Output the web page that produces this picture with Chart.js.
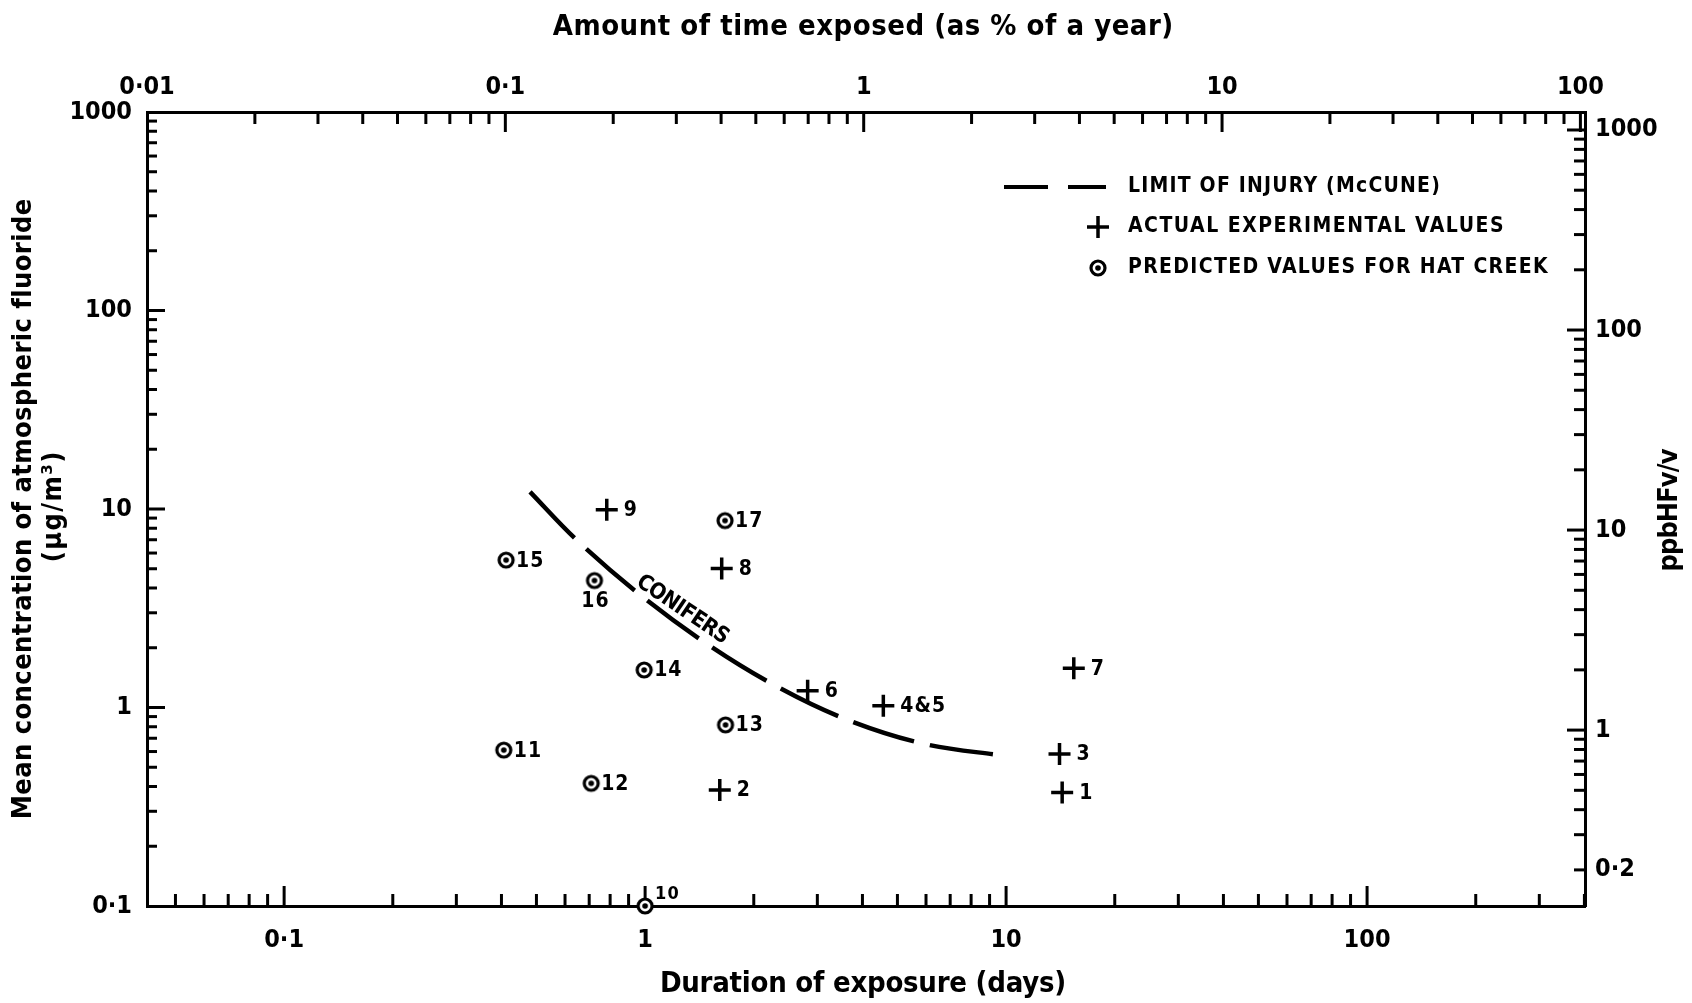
<!DOCTYPE html>
<html>
<head>
<meta charset="utf-8">
<title>Fluoride exposure vs duration</title>
<script src="https://cdn.jsdelivr.net/npm/chart.js@4.4.1/dist/chart.umd.min.js"></script>
<style>
  html, body { margin: 0; padding: 0; background: #fff; }
  #wrap { width: 1692px; height: 1003px; position: relative; }
</style>
</head>
<body>
<div id="wrap"><canvas id="chart"></canvas></div>
<script>
// ── values (days, µg/m³) ─────────────────────────────────────
const curveDays = [0.48, 0.64, 0.95, 1.45, 2.24, 3.56, 5.95, 10];
const curveConc = [12.2, 7.1, 3.8, 2.15, 1.32, 0.88, 0.655, 0.57];

const expLabels = ['1', '2', '3', '4&5', '6', '7', '8', '9'];
const expDays   = [14.3, 1.61, 14.06, 4.57, 2.82, 15.4, 1.63, 0.783];
const expConc   = [0.373, 0.384, 0.583, 1.02, 1.215, 1.576, 5.02, 9.9];

const predLabels = ['10', '11', '12', '13', '14', '15', '16', '17'];
const predDays   = [1.0, 0.406, 0.709, 1.67, 0.994, 0.412, 0.724, 1.665];
const predConc   = [0.1, 0.61, 0.415, 0.817, 1.546, 5.53, 4.36, 8.74];

// axis ranges and labelled ticks
const daysRange  = [0.0417, 401.5];
const pctRange   = [0.01, 103];
const concRange  = [0.1, 1000];
const ppbRange   = [0.132, 1230];
const daysTicks  = [0.1, 1, 10, 100];
const pctTicks   = [0.01, 0.1, 1, 10, 100];
const concTicks  = [0.1, 1, 10, 100, 1000];
const ppbTicks   = [0.2, 1, 10, 100, 1000];

// ── layout / style ──────────────────────────────────────────
const W = 1692, H = 1003;
const PLOT = { left: 147, top: 112, right: 1585, bottom: 906 };
const FONT = '"Liberation Sans Narrow", "DejaVu Sans Condensed", "Liberation Sans", Arial, sans-serif';
const INK = '#000';

function fmt(v) { return String(Number(v.toPrecision(6))).replace('.', '·'); }
function isDecade(v) { const l = Math.log10(v); return Math.abs(l - Math.round(l)) < 1e-6; }
function isWhole(v) {
  const m = v / Math.pow(10, Math.floor(Math.log10(v) + 1e-9));
  return Math.abs(m - Math.round(m)) < 1e-6;
}
function labelFrom(list) {
  return v => list.some(t => Math.abs(v / t - 1) < 1e-6) ? fmt(v) : '';
}

function dotCircle() {
  const c = document.createElement('canvas');
  c.width = 22; c.height = 22;
  const g = c.getContext('2d');
  g.beginPath(); g.arc(11, 11, 7, 0, Math.PI * 2);
  g.fillStyle = '#fff'; g.fill();
  g.lineWidth = 3.2; g.strokeStyle = INK; g.stroke();
  g.beginPath(); g.arc(11, 11, 2.8, 0, Math.PI * 2);
  g.fillStyle = INK; g.fill();
  return c;
}
const circleMark = dotCircle();

// text stretched with letter spacing to the width it has in the figure
function fitText(ctx, text, x, y, width, align, rot) {
  ctx.save();
  ctx.letterSpacing = '0px';
  const w0 = ctx.measureText(text).width;
  const sp = Math.max(-1, (width - w0) / [...text].length);
  ctx.letterSpacing = sp + 'px';
  ctx.translate(x, y);
  ctx.rotate(rot || 0);
  ctx.textAlign = align;
  ctx.textBaseline = 'middle';
  ctx.fillText(text, align === 'center' ? sp / 2 : 0, 0);
  ctx.restore();
}

// ── inward tick marks on all four sides ─────────────────────
const inwardTicks = {
  id: 'inwardTicks',
  beforeDatasetsDraw(chart) {
    const { ctx, chartArea: a } = chart;
    ctx.save();
    ctx.strokeStyle = INK;
    ctx.lineWidth = 3;
    const sides = [['x', 'bottom', 20, 12], ['x2', 'top', 20, 12], ['y', 'left', 18, 10], ['y2', 'right', 18, 11]];
    sides.forEach(([id, side, majLen, minLen]) => {
      const s = chart.scales[id];
      s.ticks.forEach(t => {
        const v = t.value;
        if (v <= s.min * 1.0001 || v >= s.max * 0.9999 || !isWhole(v)) return;
        const p = s.getPixelForValue(v);
        const len = isDecade(v) ? majLen : minLen;
        ctx.beginPath();
        if (side === 'bottom') { ctx.moveTo(p, a.bottom); ctx.lineTo(p, a.bottom - len); }
        if (side === 'top')    { ctx.moveTo(p, a.top);    ctx.lineTo(p, a.top + len); }
        if (side === 'left')   { ctx.moveTo(a.left, p);   ctx.lineTo(a.left + len, p); }
        if (side === 'right')  { ctx.moveTo(a.right, p);  ctx.lineTo(a.right - len, p); }
        ctx.stroke();
      });
    });
    ctx.restore();
  }
};

// ── titles, legend, point numbers, curve label ──────────────
const annotations = {
  id: 'annotations',
  afterDatasetsDraw(chart) {
    const { ctx, scales: { x, y } } = chart;
    ctx.save();
    ctx.fillStyle = INK;
    ctx.strokeStyle = INK;

    // axis titles
    ctx.font = `bold 29px ${FONT}`;
    fitText(ctx, 'Amount of time exposed (as % of a year)', 863, 27, 621, 'center');
    fitText(ctx, 'Duration of exposure (days)', 863, 984, 406, 'center');
    ctx.font = `bold 27px ${FONT}`;
    fitText(ctx, 'Mean concentration of atmospheric fluoride', 24, 509, 620, 'center', -Math.PI / 2);
    fitText(ctx, '(µg/m³)', 54, 507, 112, 'center', -Math.PI / 2);
    fitText(ctx, 'ppbHFv/v', 1670, 510, 122, 'center', -Math.PI / 2);

    // legend
    ctx.lineWidth = 4;
    ctx.beginPath();
    ctx.moveTo(1004, 187); ctx.lineTo(1048, 187);
    ctx.moveTo(1068, 187); ctx.lineTo(1106, 187);
    ctx.stroke();
    ctx.lineWidth = 3.5;
    ctx.beginPath();
    ctx.moveTo(1087, 227); ctx.lineTo(1109, 227);
    ctx.moveTo(1098, 216); ctx.lineTo(1098, 238);
    ctx.stroke();
    ctx.drawImage(circleMark, 1087, 257);
    ctx.font = `bold 21px ${FONT}`;
    fitText(ctx, 'LIMIT OF INJURY (McCUNE)', 1128, 187, 313, 'left');
    fitText(ctx, 'ACTUAL EXPERIMENTAL VALUES', 1128, 227, 377, 'left');
    fitText(ctx, 'PREDICTED VALUES FOR HAT CREEK', 1128, 268, 421, 'left');

    // point numbers
    ctx.font = `bold 21px ${FONT}`;
    ctx.letterSpacing = '1px';
    ctx.textBaseline = 'middle';
    expLabels.forEach((t, i) => {
      const px = x.getPixelForValue(expDays[i]), py = y.getPixelForValue(expConc[i]);
      ctx.textAlign = 'left';
      ctx.fillText(t, px + 17, py + 1);
    });
    predLabels.forEach((t, i) => {
      const px = x.getPixelForValue(predDays[i]), py = y.getPixelForValue(predConc[i]);
      if (t === '16') {
        ctx.textAlign = 'center';
        ctx.fillText(t, px + 1, py + 21);
      } else if (t === '10') {
        ctx.font = `bold 18px ${FONT}`;
        ctx.textAlign = 'left';
        ctx.fillText(t, px + 10, py - 12);
        ctx.font = `bold 21px ${FONT}`;
      } else {
        ctx.textAlign = 'left';
        ctx.fillText(t, px + 10, py + 1);
      }
    });

    // curve label
    ctx.font = `bold 22px ${FONT}`;
    fitText(ctx, 'CONIFERS', x.getPixelForValue(1.27), y.getPixelForValue(3.1), 106, 'center', 34 * Math.PI / 180);

    ctx.restore();
  }
};

const tickFont = { family: FONT, size: 25, weight: 'bold' };
function axis(position, range, labels, padding, fit) {
  return {
    type: 'logarithmic',
    position,
    min: range[0],
    max: range[1],
    grid: { display: true, drawOnChartArea: false, drawTicks: false },
    border: { display: true, color: INK, width: 3 },
    ticks: { autoSkip: false, maxRotation: 0, padding, color: INK, font: tickFont, callback: labelFrom(labels) },
    afterFit: fit
  };
}

new Chart(document.getElementById('chart'), {
  type: 'scatter',
  data: {
    datasets: [
      {
        type: 'line',
        label: 'LIMIT OF INJURY (McCUNE)',
        data: curveDays.map((d, i) => ({ x: d, y: curveConc[i] })),
        borderColor: INK,
        borderWidth: 4.5,
        borderDash: [64, 16],
        borderCapStyle: 'butt',
        tension: 0.35,
        pointRadius: 0,
        fill: false
      },
      {
        label: 'ACTUAL EXPERIMENTAL VALUES',
        data: expDays.map((d, i) => ({ x: d, y: expConc[i] })),
        pointStyle: 'cross',
        pointRadius: 11,
        pointBorderWidth: 3.5,
        pointBorderColor: INK,
        clip: false
      },
      {
        label: 'PREDICTED VALUES FOR HAT CREEK',
        data: predDays.map((d, i) => ({ x: d, y: predConc[i] })),
        pointStyle: circleMark,
        pointRadius: 11,
        clip: false
      }
    ]
  },
  options: {
    responsive: true,
    maintainAspectRatio: false,
    animation: false,
    events: [],
    layout: { padding: 0 },
    plugins: { legend: { display: false }, tooltip: { enabled: false } },
    scales: {
      x:  axis('bottom', daysRange, daysTicks, 19, s => { s.height = H - PLOT.bottom; }),
      x2: axis('top',    pctRange,  pctTicks,  10, s => { s.height = PLOT.top; }),
      y:  axis('left',   concRange, concTicks, 15, s => { s.width = PLOT.left; }),
      y2: axis('right',  ppbRange,  ppbTicks,  10, s => { s.width = W - PLOT.right; })
    }
  },
  plugins: [inwardTicks, annotations]
});
</script>
</body>
</html>
